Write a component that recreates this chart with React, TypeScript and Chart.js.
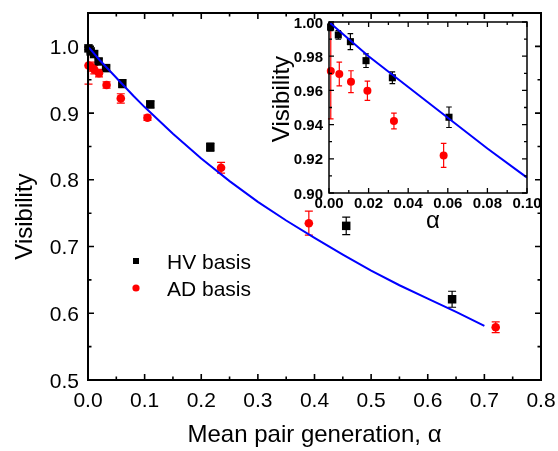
import React, { useEffect, useRef } from "react";
import { Chart, registerables } from "chart.js";

Chart.register(...registerables);

// ---------- data ----------
const hvAlpha = [0.0008, 0.0047, 0.0108, 0.0187, 0.032, 0.0606, 0.11, 0.216, 0.456, 0.643];
const hvVis = [0.997, 0.9924, 0.9885, 0.9774, 0.9674, 0.9443, 0.913, 0.849, 0.731, 0.621];
const hvErr = [0.002, 0.0025, 0.0047, 0.004, 0.0034, 0.006, 0.005, 0.006, 0.013, 0.012];

const adAlpha = [0.0009, 0.0052, 0.0111, 0.0194, 0.0328, 0.0579, 0.105, 0.235, 0.39, 0.72];
const adVis = [0.9713, 0.9696, 0.9651, 0.9598, 0.9421, 0.922, 0.893, 0.818, 0.735, 0.579];
const adErr = [0.028, 0.0069, 0.0064, 0.0056, 0.0046, 0.007, 0.004, 0.008, 0.018, 0.008];

const curveAlpha = [0, 0.02, 0.04, 0.06, 0.08, 0.1, 0.15, 0.2, 0.25, 0.3, 0.35, 0.4, 0.45, 0.5, 0.55, 0.6, 0.65, 0.7];
const curveVis = [1.0, 0.98, 0.962, 0.944, 0.926, 0.909, 0.869, 0.832, 0.798, 0.767, 0.739, 0.713, 0.688, 0.664, 0.642, 0.622, 0.602, 0.581];

const legendLabels = ["HV basis", "AD basis"];

const mainXMajor = [0, 0.1, 0.2, 0.3, 0.4, 0.5, 0.6, 0.7, 0.8];
const mainXLabels = ["0.0", "0.1", "0.2", "0.3", "0.4", "0.5", "0.6", "0.7", "0.8"];
const mainXMinor = [0.05, 0.15, 0.25, 0.35, 0.45, 0.55, 0.65, 0.75];
const mainYMajor = [0.5, 0.6, 0.7, 0.8, 0.9, 1.0];
const mainYLabels = ["0.5", "0.6", "0.7", "0.8", "0.9", "1.0"];
const mainYMinor = [0.55, 0.65, 0.75, 0.85, 0.95];

const insetXMajor = [0, 0.02, 0.04, 0.06, 0.08, 0.1];
const insetXLabels = ["0.00", "0.02", "0.04", "0.06", "0.08", "0.10"];
const insetXMinor = [0.01, 0.03, 0.05, 0.07, 0.09];
const insetYMajor = [0.9, 0.92, 0.94, 0.96, 0.98, 1.0];
const insetYLabels = ["0.90", "0.92", "0.94", "0.96", "0.98", "1.00"];
const insetYMinor = [0.91, 0.93, 0.95, 0.97, 0.99];

const xTitle = "Mean pair generation, \u03b1";
const yTitle = "Visibility";
const insetXTitle = "\u03b1";

const FONT = "'Liberation Sans', Arial, Helvetica, sans-serif";

const pts = (xs: number[], ys: number[]) => xs.map((x, i) => ({ x, y: ys[i] }));

// ---------- plugins ----------
const errorBarPlugin = {
  id: "errorBars",
  beforeDatasetsDraw(chart: any, _args: any, opts: any) {
    const { ctx, chartArea } = chart;
    const xs = chart.scales.x;
    const ys = chart.scales.y;
    ctx.save();
    ctx.beginPath();
    ctx.rect(chartArea.left - 6, chartArea.top, chartArea.right - chartArea.left + 6, chartArea.bottom - chartArea.top);
    ctx.clip();
    (opts.sets || []).forEach((s: any) => {
      ctx.strokeStyle = s.color;
      ctx.lineWidth = opts.lineWidth;
      ctx.beginPath();
      s.x.forEach((xv: number, i: number) => {
        if (xv > xs.max) return;
        const px = xs.getPixelForValue(xv);
        const pt = ys.getPixelForValue(s.y[i] + s.e[i]);
        const pb = ys.getPixelForValue(s.y[i] - s.e[i]);
        ctx.moveTo(px, pt);
        ctx.lineTo(px, pb);
        ctx.moveTo(px - opts.cap, pt);
        ctx.lineTo(px + opts.cap, pt);
        ctx.moveTo(px - opts.cap, pb);
        ctx.lineTo(px + opts.cap, pb);
      });
      ctx.stroke();
    });
    ctx.restore();
  },
};

const framePlugin = {
  id: "frame",
  beforeDraw(chart: any, _args: any, opts: any) {
    if (!opts.fillWhite) return;
    const { ctx, chartArea: a } = chart;
    ctx.save();
    ctx.fillStyle = "#ffffff";
    ctx.fillRect(a.left, a.top, a.right - a.left, a.bottom - a.top);
    ctx.restore();
  },
  afterDraw(chart: any, _args: any, o: any) {
    const { ctx, chartArea: a } = chart;
    const xs = chart.scales.x;
    const ys = chart.scales.y;
    ctx.save();
    ctx.strokeStyle = "#000";
    ctx.lineWidth = o.lineWidth;
    ctx.strokeRect(a.left, a.top, a.right - a.left, a.bottom - a.top);
    ctx.lineWidth = o.tickWidth;
    ctx.beginPath();
    const xt = (vals: number[], len: number) =>
      vals.forEach((v) => {
        const p = xs.getPixelForValue(v);
        ctx.moveTo(p, a.bottom);
        ctx.lineTo(p, a.bottom - len);
        ctx.moveTo(p, a.top);
        ctx.lineTo(p, a.top + len);
      });
    const yt = (vals: number[], len: number) =>
      vals.forEach((v) => {
        const p = ys.getPixelForValue(v);
        ctx.moveTo(a.left, p);
        ctx.lineTo(a.left + len, p);
        ctx.moveTo(a.right, p);
        ctx.lineTo(a.right - len, p);
      });
    xt(o.xMajor, o.majorLen);
    xt(o.xMinor, o.minorLen);
    yt(o.yMajor, o.majorLen);
    yt(o.yMinor, o.minorLen);
    ctx.stroke();

    ctx.fillStyle = "#000";
    ctx.font = o.tickFont;
    ctx.textBaseline = "alphabetic";
    ctx.textAlign = "center";
    o.xMajor.forEach((v: number, i: number) => {
      ctx.fillText(o.xLabels[i], xs.getPixelForValue(v), a.bottom + o.xLabelOffset);
    });
    ctx.textAlign = "right";
    o.yMajor.forEach((v: number, i: number) => {
      ctx.fillText(o.yLabels[i], a.left - o.yLabelGap, ys.getPixelForValue(v) + o.yLabelShift);
    });

    ctx.font = o.titleFont;
    ctx.textAlign = "center";
    if (o.xTitle) ctx.fillText(o.xTitle, o.xTitleX, o.xTitleY);
    if (o.yTitle) {
      ctx.save();
      ctx.translate(o.yTitleX, o.yTitleY);
      ctx.rotate(-Math.PI / 2);
      ctx.fillText(o.yTitle, 0, 0);
      ctx.restore();
    }

    if (o.legend) {
      const L = o.legend;
      ctx.fillStyle = "#000";
      ctx.fillRect(L.x - 3, L.y1 - 3, 6, 6);
      ctx.fillStyle = "#ff0000";
      ctx.beginPath();
      ctx.arc(L.x, L.y2, 3.6, 0, Math.PI * 2);
      ctx.fill();
      ctx.fillStyle = "#000";
      ctx.font = o.tickFont;
      ctx.textAlign = "left";
      ctx.fillText(L.labels[0], L.tx, L.b1);
      ctx.fillText(L.labels[1], L.tx, L.b2);
    }
    ctx.restore();
  },
};

function makeDatasets(sqR: number, cirR: number) {
  const clip = { left: 6, top: 6, right: 0, bottom: 0 };
  return [
    {
      type: "line" as const,
      data: pts(curveAlpha, curveVis),
      borderColor: "#0000ff",
      borderWidth: 2,
      pointRadius: 0,
      fill: false,
      tension: 0,
      clip,
    },
    {
      data: pts(adAlpha, adVis),
      pointStyle: "circle",
      pointRadius: cirR,
      backgroundColor: "#ff0000",
      borderColor: "#ff0000",
      borderWidth: 0,
      clip,
    },
    {
      data: pts(hvAlpha, hvVis),
      pointStyle: "rect",
      pointRadius: sqR,
      backgroundColor: "#000000",
      borderColor: "#000000",
      borderWidth: 0,
      clip,
    },
  ];
}

export default function App() {
  const mainRef = useRef<HTMLCanvasElement | null>(null);
  const insetRef = useRef<HTMLCanvasElement | null>(null);

  useEffect(() => {
    const main = new Chart(mainRef.current as HTMLCanvasElement, {
      type: "scatter",
      data: { datasets: makeDatasets(6, 4.3) as any },
      plugins: [errorBarPlugin, framePlugin],
      options: {
        responsive: false,
        animation: false,
        events: [],
        layout: { padding: { left: 88, right: 17, top: 13, bottom: 71 } },
        scales: {
          x: { type: "linear", min: 0, max: 0.8, display: false },
          y: { type: "linear", min: 0.5, max: 1.05, display: false },
        },
        plugins: {
          legend: { display: false },
          tooltip: { enabled: false },
          errorBars: {
            lineWidth: 1.2,
            cap: 4,
            sets: [
              { x: adAlpha, y: adVis, e: adErr, color: "#ff0000" },
              { x: hvAlpha, y: hvVis, e: hvErr, color: "#000000" },
            ],
          },
          frame: {
            lineWidth: 2,
            tickWidth: 1.6,
            majorLen: 6,
            minorLen: 3.5,
            xMajor: mainXMajor,
            xMinor: mainXMinor,
            yMajor: mainYMajor,
            yMinor: mainYMinor,
            xLabels: mainXLabels,
            yLabels: mainYLabels,
            tickFont: `21px ${FONT}`,
            xLabelOffset: 27,
            yLabelGap: 9,
            yLabelShift: 7.5,
            titleFont: `24px ${FONT}`,
            xTitle: xTitle,
            xTitleX: 314.5,
            xTitleY: 442,
            yTitle: yTitle,
            yTitleX: 32,
            yTitleY: 216.5,
            legend: { x: 136, y1: 261, y2: 288, tx: 167, b1: 269, b2: 295.5, labels: legendLabels },
          },
        } as any,
      },
    });

    const inset = new Chart(insetRef.current as HTMLCanvasElement, {
      type: "scatter",
      data: { datasets: makeDatasets(5, 4) as any },
      plugins: [errorBarPlugin, framePlugin],
      options: {
        responsive: false,
        animation: false,
        events: [],
        layout: { padding: { left: 329, right: 31, top: 22, bottom: 258 } },
        scales: {
          x: { type: "linear", min: 0, max: 0.1, display: false },
          y: { type: "linear", min: 0.9, max: 1.0, display: false },
        },
        plugins: {
          legend: { display: false },
          tooltip: { enabled: false },
          errorBars: {
            lineWidth: 1.2,
            cap: 2.8,
            sets: [
              { x: adAlpha, y: adVis, e: adErr, color: "#ff0000" },
              { x: hvAlpha, y: hvVis, e: hvErr, color: "#000000" },
            ],
          },
          frame: {
            fillWhite: true,
            lineWidth: 1.5,
            tickWidth: 1.3,
            majorLen: 5,
            minorLen: 3,
            xMajor: insetXMajor,
            xMinor: insetXMinor,
            yMajor: insetYMajor,
            yMinor: insetYMinor,
            xLabels: insetXLabels,
            yLabels: insetYLabels,
            tickFont: `bold 15px ${FONT}`,
            xLabelOffset: 15,
            yLabelGap: 6,
            yLabelShift: 5.5,
            titleFont: `24px ${FONT}`,
            xTitle: insetXTitle,
            xTitleX: 433,
            xTitleY: 228,
            yTitle: yTitle,
            yTitleX: 289,
            yTitleY: 99,
          },
        } as any,
      },
    });

    return () => {
      main.destroy();
      inset.destroy();
    };
  }, []);

  return (
    <div style={{ position: "absolute", left: 0, top: 0, width: 558, height: 451, background: "#ffffff" }}>
      <canvas ref={mainRef} width={558} height={451} style={{ position: "absolute", left: 0, top: 0 }} />
      <canvas ref={insetRef} width={558} height={451} style={{ position: "absolute", left: 0, top: 0 }} />
    </div>
  );
}
